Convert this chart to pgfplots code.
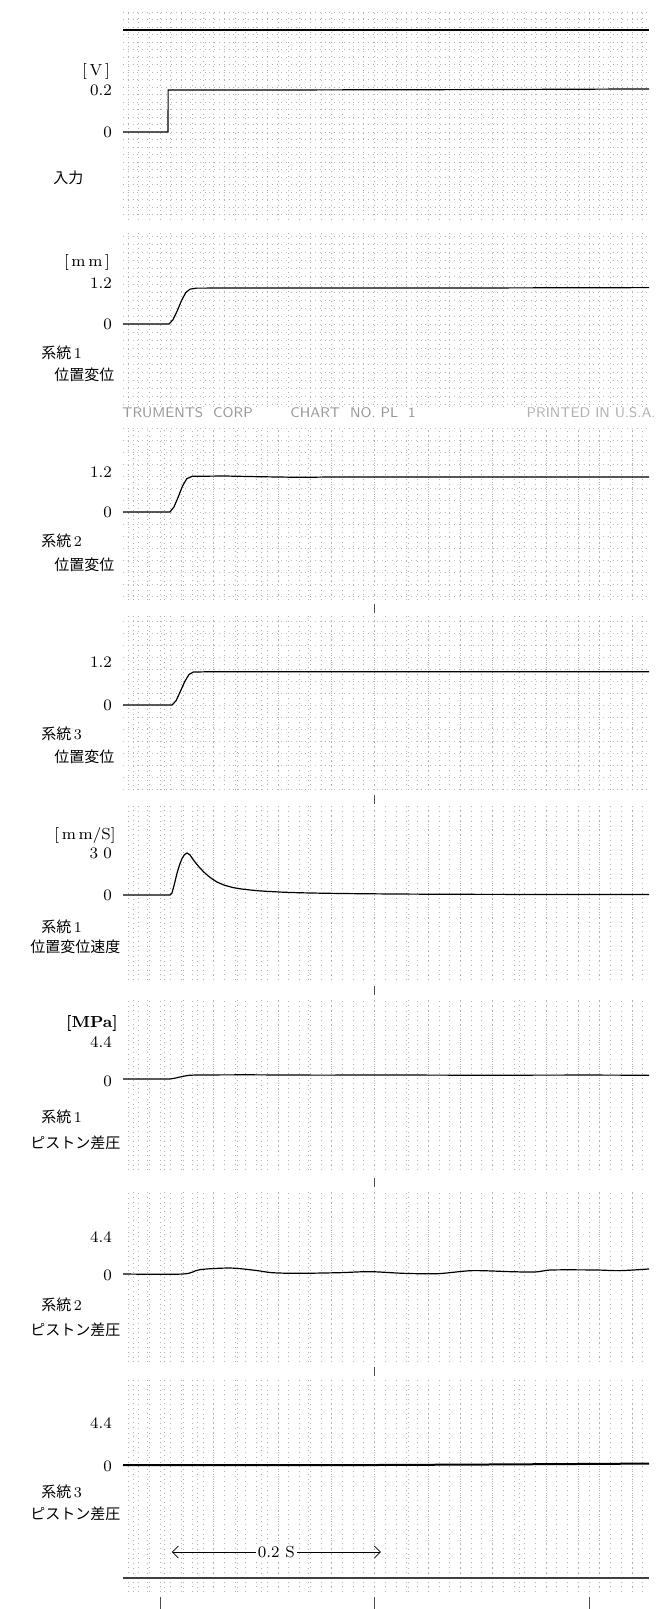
\documentclass[border=0pt]{standalone}
\usepackage{pgfplots}
\pgfplotsset{compat=1.18}
\usepackage{fontspec}
\newfontfamily\jp{Noto Sans CJK JP}
\usetikzlibrary{arrows.meta}

\pgfplotsset{
 panel/.style={
   scale only axis, width=263pt, xmin=-0.0345, xmax=0.456,
   axis line style={draw=none}, tick style={draw=none},
   xticklabels={}, yticklabels={},
   xtick distance=0.01, xmajorgrids,
   major x grid style={dotted, black!30, line width=0.3pt},
   anchor=north west,
 },
 dark/.style={
   extra x ticks={-0.025,-0.012,0.004,0.022,0.035,0.05,0.072,0.094,0.11,0.138,0.16,0.2,0.232,0.25,0.28,0.31,0.335,0.36,0.39,0.41,0.44},
   extra x tick labels={},
   extra x tick style={grid=major, major grid style={dashed, black!50, line width=0.35pt}},
 },
 sig/.style={black, line width=0.6pt, no marks},
}
\newcommand\num{\fontsize{8}{9}\selectfont}
\newcommand\jl{\fontsize{7.5}{9}\selectfont\jp}

\begin{document}
\begin{tikzpicture}
\path[use as bounding box] (0pt,0pt) rectangle (330pt,-804.5pt);

% Panel 1 : input
\begin{axis}[panel, at={(61.5pt,-6pt)}, height=104pt, ymin=-0.419, ymax=0.5714,
  ytick distance=0.0357, ymajorgrids, major y grid style={dotted, black!30, line width=0.3pt}]
\addplot[line width=1.1pt, black] coordinates {(-0.0345,0.4857) (0.456,0.4857)};
\addplot[sig] coordinates {(-0.0345,0) (0.0075,0) (0.0076,0.2) (0.1,0.2) (0.3,0.202) (0.456,0.205)};
\end{axis}

% Panel 2 : system 1 position
\begin{axis}[panel, at={(61.5pt,-116pt)}, height=87.5pt, ymin=-2.4293, ymax=2.6927,
  ytick distance=0.2342, ymajorgrids, major y grid style={dotted, black!28, line width=0.3pt}]
\addplot[sig] coordinates {(-0.0345,0) (0.0084,0) (0.012,0.12) (0.016,0.38) (0.02,0.68) (0.024,0.92) (0.028,1.02) (0.034,1.05) (0.1,1.055) (0.3,1.055) (0.456,1.065)};
\end{axis}

% Panel 3 : system 2 position
\begin{axis}[panel, dark, at={(61.5pt,-214pt)}, height=86pt, ymin=-2.64, ymax=2.52,
  ytick distance=0.36, ymajorgrids, major y grid style={dotted, black!25, line width=0.3pt}]
\addplot[sig] coordinates {(-0.0345,0) (0.0093,0) (0.013,0.15) (0.017,0.45) (0.021,0.78) (0.025,1.0) (0.03,1.07) (0.06,1.08) (0.09,1.06) (0.13,1.04) (0.16,1.05) (0.25,1.05) (0.35,1.05) (0.456,1.05)};
\end{axis}

% Panel 4 : system 3 position
\begin{axis}[panel, dark, at={(61.5pt,-308pt)}, height=87pt, ymin=-2.372, ymax=2.4837,
  ytick distance=0.335, ymajorgrids, major y grid style={dotted, black!25, line width=0.3pt}]
\addplot[sig] coordinates {(-0.0345,0) (0.0112,0) (0.015,0.12) (0.019,0.38) (0.023,0.65) (0.027,0.85) (0.031,0.92) (0.05,0.93) (0.2,0.93) (0.456,0.93)};
\end{axis}

% Panel 5 : system 1 velocity
\begin{axis}[panel, dark, at={(61.5pt,-403pt)}, height=87pt, ymin=-60.71, ymax=63.57]
\addplot[sig] coordinates {(-0.0345,0) (0.0093,0) (0.0112,1.5) (0.0135,8) (0.0159,15.7) (0.0182,21.5) (0.0205,26) (0.0228,28.8) (0.0252,30) (0.028,28.6) (0.0308,25.5) (0.034,22.2) (0.0373,19.3) (0.041,16.3) (0.045,13.6) (0.049,11.3) (0.0531,9.3) (0.06,7.0) (0.0681,5.3) (0.076,4.3) (0.0839,3.6) (0.092,3.0) (0.0998,2.6) (0.115,2.0) (0.1305,1.6) (0.15,1.3) (0.1772,1.0) (0.22,0.7) (0.2704,0.5) (0.35,0.4) (0.456,0.3)};
\end{axis}

% Panel 6 : system 1 piston differential pressure
\begin{axis}[panel, dark, at={(61.5pt,-500pt)}, height=85pt, ymin=-10.8216, ymax=9.3946]
\addplot[sig] coordinates {(-0.0345,0) (0.0093,0) (0.014,0.1) (0.019,0.25) (0.024,0.38) (0.028,0.45) (0.035,0.48) (0.08,0.5) (0.15,0.46) (0.2,0.48) (0.3,0.45) (0.4,0.47) (0.456,0.45)};
\end{axis}

% Panel 7 : system 2 piston differential pressure
\begin{axis}[panel, dark, at={(61.5pt,-595pt)}, height=86pt, ymin=-10.465, ymax=9.989]
\addplot[sig, smooth, tension=0.5] coordinates {(-0.0345,0) (0.0214,0) (0.0373,0.52) (0.0653,0.71) (0.0886,0.44) (0.1044,0.16) (0.1287,0.08) (0.1678,0.16) (0.1958,0.28) (0.2275,0.08) (0.2592,0.04) (0.2909,0.4) (0.3263,0.28) (0.3497,0.24) (0.3655,0.48) (0.4056,0.48) (0.4289,0.4) (0.456,0.6)};
\end{axis}

% Panel 8 : system 3 piston differential pressure
\begin{axis}[panel, dark, at={(61.5pt,-690pt)}, height=106pt, ymin=-13.305, ymax=8.905]
\addplot[sig, line width=1pt] coordinates {(-0.0345,0) (0.2,0) (0.3,0.05) (0.456,0.15)};
\addplot[line width=1.2pt, black!75] coordinates {(-0.0345,-11.838) (0.456,-11.838)};
\draw[{Straight Barb[length=3pt]}-{Straight Barb[length=3pt]}, line width=0.4pt]
  (axis cs:0.011,-9.114) -- (axis cs:0.206,-9.114)
  node[midway, fill=white, inner sep=1pt, font=\num] {0.2 S};
\end{axis}

\begin{scope}[x=0.5pt,y=-0.5pt]
% labels panel 1
\node[font=\num] at (96,72) {[\,V\,]};
\node[font=\num, anchor=east] at (119,90) {0.2};
\node[font=\num, anchor=east] at (119,132) {0};
\node[anchor=west, inner sep=0pt] at (53,178) {\jl 入力};
% panel 2
\node[font=\num] at (87,263) {[\,m\,m\,]};
\node[font=\num, anchor=east] at (119,283) {1.2};
\node[font=\num, anchor=east] at (119,324) {0};
\node[anchor=west, inner sep=0pt] at (41,353) {\jl 系統\,{\rmfamily 1}};
\node[anchor=west, inner sep=0pt] at (54,375) {\jl 位置変位};
\node[anchor=west, inner sep=0pt, text=black!40, font=\sffamily\fontsize{7}{8}\selectfont] at (122,413) {TRUMENTS\ \ CORP};
\node[anchor=west, inner sep=0pt, text=black!40, font=\sffamily\fontsize{7}{8}\selectfont] at (290,413) {CHART\ \ NO.\ PL\ \ 1};
\node[anchor=east, inner sep=0pt, text=black!30, font=\sffamily\fontsize{7}{8}\selectfont] at (656,413) {PRINTED IN U.S.A.};
% panel 3
\node[font=\num, anchor=east] at (119,472) {1.2};
\node[font=\num, anchor=east] at (119,512) {0};
\node[anchor=west, inner sep=0pt] at (41,541) {\jl 系統\,{\rmfamily 2}};
\node[anchor=west, inner sep=0pt] at (54,565) {\jl 位置変位};
% panel 4
\node[font=\num, anchor=east] at (119,662) {1.2};
\node[font=\num, anchor=east] at (119,705) {0};
\node[anchor=west, inner sep=0pt] at (41,734) {\jl 系統\,{\rmfamily 3}};
\node[anchor=west, inner sep=0pt] at (54,757) {\jl 位置変位};
% panel 5
\node[font=\num] at (85,835) {[\,m\,m/S]};
\node[font=\num, anchor=east] at (119,853) {3\,\,0};
\node[font=\num, anchor=east] at (119,895) {0};
\node[anchor=west, inner sep=0pt] at (41,927) {\jl 系統\,{\rmfamily 1}};
\node[anchor=west, inner sep=0pt] at (30,947) {\jl 位置変位速度};
% panel 6
\node[font=\num\bfseries] at (92,1023) {[MPa]};
\node[font=\num, anchor=east] at (119,1042) {4.4};
\node[font=\num, anchor=east] at (119,1081) {0};
\node[anchor=west, inner sep=0pt] at (41,1117) {\jl 系統\,{\rmfamily 1}};
\node[anchor=west, inner sep=0pt] at (30,1143) {\jl ピストン差圧};
% panel 7
\node[font=\num, anchor=east] at (119,1237) {4.4};
\node[font=\num, anchor=east] at (119,1275) {0};
\node[anchor=west, inner sep=0pt] at (41,1305) {\jl 系統\,{\rmfamily 2}};
\node[anchor=west, inner sep=0pt] at (30,1330) {\jl ピストン差圧};
% panel 8
\node[font=\num, anchor=east] at (119,1423) {4.4};
\node[font=\num, anchor=east] at (119,1466) {0};
\node[anchor=west, inner sep=0pt] at (41,1492) {\jl 系統\,{\rmfamily 3}};
\node[anchor=west, inner sep=0pt] at (30,1514) {\jl ピストン差圧};
% timing marks
\draw[line width=0.4pt, black!70] (374,604)--(374,613) (374,795)--(374,804) (374,986)--(374,995) (374,1178)--(374,1187) (374,1367)--(374,1376);
\draw[line width=0.4pt, black!70] (160,1597)--(160,1609) (374,1597)--(374,1609) (589,1597)--(589,1609);
\end{scope}
\end{tikzpicture}
\end{document}
